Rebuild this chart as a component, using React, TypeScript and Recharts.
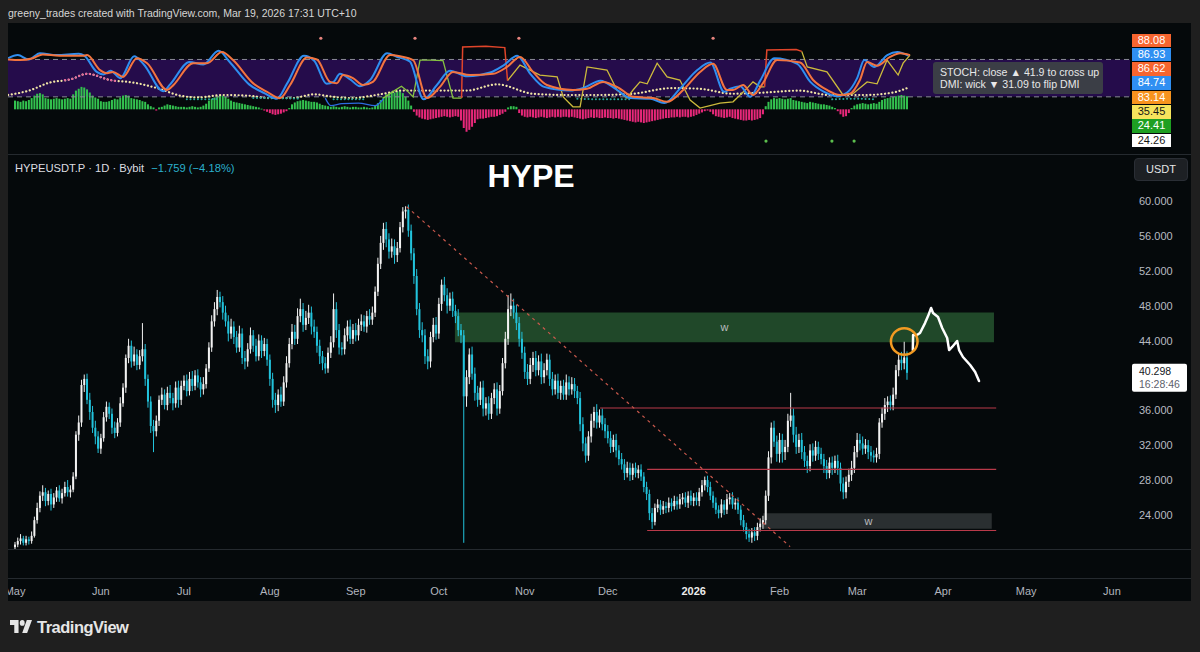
import React from 'react';
import { ComposedChart, Bar, Line, XAxis, YAxis, ReferenceArea, ReferenceLine, ReferenceDot } from 'recharts';

const FONT = '"Liberation Sans", Arial, Helvetica, sans-serif';

// ---------- axes ----------
const dayMin = -2.53;
const dayMax = 402.5;
const monthTickDays = [0, 31, 61, 92, 123, 153, 184, 214, 245, 276, 304, 335, 365, 396];
const monthTickLabels = ['May', 'Jun', 'Jul', 'Aug', 'Sep', 'Oct', 'Nov', 'Dec', '2026', 'Feb', 'Mar', 'Apr', 'May', 'Jun'];
// 40.000 is hidden behind the last-price label in the reference
const priceTicks = [24, 28, 32, 36, 44, 48, 52, 56, 60];
const priceMin = 20.09;
const priceMax = 65.28;
const indMin = -71.7;
const indMax = 138.5;

// ---------- daily candles: [close, upper wick, lower wick] ----------
const firstOpen = 20.3;
const may25 = [[20.6,.3,.4],[21.0,.4,.3],[21.3,.5,.4],[20.8,.3,.3],[21.2,.4,.3],[21.0,.3,.4],[21.6,.5,.3],[23.4,.4,.2],[24.8,.6,.4],[26.2,.5,.5],[26.6,.8,.6],[25.6,.5,.6],[26.4,.4,.5],[25.2,.6,.7],[26.0,.5,.4],[26.8,.4,.5],[25.9,.6,.4],[26.5,.5,.6],[27.2,.6,.4],[26.6,.8,.5],[26.9,.5,.6],[28.4,.5,.3],[33.2,.4,.3],[34.6,.8,.7],[38.9,.6,.5],[39.6,.5,.8],[37.2,.6,.5],[35.8,.8,.9],[34.0,.7,.6],[33.0,.8,.9],[31.6,.6,.5]];
const jun25 = [[32.8,.5,.6],[35.2,.6,.4],[36.4,.6,.5],[35.6,.5,.6],[34.0,.6,.7],[33.4,.7,.6],[34.6,.5,.4],[36.8,.7,.5],[38.6,.5,.4],[42.0,.4,.6],[43.4,.8,.6],[41.6,.6,.7],[42.4,.9,.5],[41.2,.6,.6],[42.2,.7,.5],[43.0,3.0,.6],[39.6,.6,.8],[37.0,.5,.7],[34.2,.6,.8],[33.6,.7,2.4],[34.8,.6,.6],[37.2,.5,.6],[37.8,.8,.6],[36.6,.6,.5],[38.0,.7,.6],[37.4,.9,.6],[36.8,.6,.8],[38.6,.7,.5],[37.2,.8,.9],[38.8,.6,.6]];
const jul25 = [[39.4,.6,.5],[38.2,.7,.6],[39.6,.8,.5],[38.8,.9,.6],[40.0,.6,.5],[39.2,.7,.6],[38.4,.6,.9],[39.0,.8,.6],[40.8,.5,.5],[43.2,.6,.4],[46.2,.7,.5],[47.6,.8,.6],[49.0,.8,.7],[48.4,.6,.6],[47.2,.7,.8],[46.2,.8,.6],[44.8,.7,.9],[45.6,.9,.6],[44.4,.6,.8],[43.2,.7,.6],[44.8,.9,.5],[42.0,.6,.7],[41.6,.8,.9],[43.0,.7,.6],[44.6,.9,.5],[43.4,.6,.7],[42.2,.8,.6],[44.0,.7,.5],[42.8,.6,.8],[43.6,.7,.6],[41.8,.6,.7]];
const aug25 = [[39.6,.6,.8],[37.2,.7,.9],[36.6,.8,.9],[37.8,.6,.7],[37.0,.9,.6],[39.2,.7,.5],[41.4,.8,.6],[43.6,.7,.5],[45.0,.9,.6],[44.2,.8,.7],[46.8,.9,.6],[47.6,1.2,.7],[45.8,.7,.8],[46.6,.8,.6],[47.2,.9,.7],[45.6,.7,.9],[45.0,.8,.7],[43.4,.6,.8],[42.2,.7,.9],[41.4,.6,.8],[40.8,.7,.6],[42.6,.6,.5],[43.8,.7,.6],[47.6,1.8,.6],[45.2,.8,.9],[43.2,.7,.8],[43.0,.6,.7],[44.6,.8,.6],[45.6,.7,.7],[44.2,.8,.6],[45.2,.7,.6]];
const sep25 = [[44.6,.8,.7],[45.8,.7,.6],[46.2,.8,.7],[45.6,.7,.6],[46.8,.6,.7],[46.4,.8,.6],[47.2,.7,.6],[49.6,.6,.5],[52.8,.7,.5],[55.2,.8,.6],[56.8,.7,.8],[55.6,.8,.9],[54.2,.7,.8],[54.8,.9,.7],[53.8,.8,1.0],[54.6,.7,.8],[57.0,.6,.5],[58.8,.5,.6],[59.0,.4,.8],[56.6,.6,.7],[54.0,.7,.8],[51.4,.6,.9],[47.6,.8,.7],[45.2,.7,.9],[44.6,.9,.8],[42.2,.7,.9],[41.6,.8,.9],[44.4,.6,.7],[45.8,.8,.6],[44.8,.9,.7]];
const oct25 = [[48.2,.7,.6],[50.4,.6,.8],[49.2,.9,.7],[48.0,.8,.9],[48.8,.7,.6],[47.4,.8,.7],[46.8,.7,.8],[45.2,.8,.7],[44.6,.7,.9],[37.6,.6,16.8],[39.8,.8,1.2],[42.4,.7,.8],[40.2,.9,.7],[38.0,.7,.9],[37.2,.8,.8],[38.6,.7,.6],[36.2,.8,.9],[36.8,.7,.8],[35.6,.8,.7],[37.4,.6,.6],[38.4,.7,.7],[36.2,.8,.8],[38.2,.7,.6],[41.4,.6,.5],[44.2,.8,.6],[47.6,1.6,.7],[48.0,1.4,.8],[47.2,.8,.7],[46.0,.9,.8],[44.2,.7,.9],[42.6,.8,.7]];
const nov25 = [[40.4,.7,.8],[39.6,.9,.7],[41.2,.8,.6],[42.0,.7,.8],[40.6,.8,.7],[41.6,.7,.6],[39.8,.9,.8],[40.6,.8,.7],[41.8,.7,.6],[39.6,.6,.8],[38.4,.8,.7],[39.4,.7,.6],[38.0,.8,.7],[38.8,.6,.8],[37.8,.7,.6],[39.2,.9,.6],[38.4,.7,.7],[39.0,.8,.6],[38.2,.7,.8],[37.4,.6,.7],[34.4,.7,.8],[32.2,.8,.9],[30.8,.7,.8],[33.0,.6,.6],[34.8,.8,.7],[35.8,.6,.8],[34.6,.9,.7],[35.4,.7,.6],[34.4,.8,.7],[33.6,.7,.8]];
const dec25 = [[32.8,.7,.6],[31.8,.8,.7],[32.6,.6,.6],[31.4,.7,.8],[30.4,.6,.7],[29.8,.7,.6],[28.8,.6,.8],[29.4,.7,.5],[28.6,.6,.7],[29.4,.5,.6],[28.8,.6,.5],[29.2,.5,.6],[28.4,.6,.5],[27.2,.5,.6],[26.4,.6,.7],[24.2,.5,.8],[23.2,.6,.8],[24.8,.5,.4],[25.2,.6,.5],[24.6,.5,.6],[25.0,.6,.5],[24.8,.5,.6],[25.4,.6,.5],[25.0,.5,.6],[25.6,.6,.4],[25.2,.5,.6],[25.8,.6,.5],[26.0,.5,.6],[25.4,.6,.5],[26.2,.5,.6],[25.6,.6,.5]];
const jan26 = [[26.0,.5,.6],[25.6,.6,.5],[26.6,.5,.6],[27.4,.6,.5],[28.0,.4,.6],[27.2,.5,.6],[26.2,.6,.5],[25.4,.5,.6],[24.6,.6,.5],[24.2,.5,.6],[25.2,.6,.5],[24.6,.5,.6],[25.8,.6,.5],[26.0,.5,.6],[25.2,.6,.5],[25.4,.5,.6],[24.6,.6,.5],[23.4,.5,.6],[22.6,.6,.5],[21.8,.5,.6],[21.4,.6,.5],[22.0,.5,.6],[21.6,.6,.6],[22.6,.5,.5],[23.0,.6,.5],[23.4,.5,.6],[26.2,.6,.5],[30.6,.7,.6],[34.0,.6,.7],[32.4,.8,.6],[31.0,.7,.9]];
const feb26 = [[32.6,.8,1.0],[31.2,.7,1.2],[31.8,.8,.9],[34.8,.8,.6],[35.4,2.6,.7],[33.2,.8,.9],[31.8,.9,.8],[32.6,.7,.7],[31.2,.8,.8],[30.2,.7,.7],[29.6,.6,.8],[31.4,.7,.6],[30.8,.8,.7],[31.8,.7,.6],[31.0,.6,.7],[30.4,.7,.6],[29.6,.6,.8],[28.8,.7,.7],[30.0,.6,.6],[29.4,.7,.8],[30.2,.6,.6],[29.4,.7,.8],[27.6,.6,.9],[26.6,.7,.8],[27.8,.6,.7],[28.6,.7,.6],[29.4,.8,.7],[31.2,.7,.6]];
const mar26 = [[32.6,.8,.6],[32.2,.7,.8],[31.6,.8,.7],[32.0,.7,.6],[31.2,.6,.8],[30.8,.7,.7],[30.6,.6,.6],[31.0,.7,.6],[34.6,.5,.6],[35.6,.7,.6],[36.6,.8,.7],[37.0,.6,.8],[36.6,.7,.6],[37.8,.8,.6],[40.6,.6,.5],[41.8,.8,.7],[41.4,.9,.8],[42.06,1.8,.7],[40.298,.7,.8]];

// ---------- histogram (indicator pane), daily ----------
const histMay = [14,13,12,14,13,15,18,22,25,26,24,18,17,16,17,18,17,16,17,18,17,24,30,33,36,35,32,27,22,19,17];
const histJun = [13,12,12,13,15,17,16,19,22,23,22,18,17,16,15,13,12,8,5,3,-2,3,4,6,8,7,6,5,4,4];
const histJul = [4,3,4,5,4,3,4,6,9,14,17,19,21,23,22,20,17,14,12,11,10,9,8,7,6,5,4,3,1,-2,-4];
const histAug = [-6,-8,-9,-8,-7,-5,-3,2,8,11,13,14,15,14,13,12,12,11,9,7,6,5,4,5,4,3,4,5,4,3,4];
const histSep = [4,3,3,4,3,2,3,6,10,15,20,24,26,28,27,29,30,26,20,14,6,-4,-10,-13,-15,-16,-17,-16,-15,-14];
const histOct = [-13,-12,-11,-12,-13,-12,-11,-12,-18,-30,-36,-33,-28,-22,-16,-15,-15,-14,-13,-12,-12,-11,-9,-7,-4,3,5,5,4,-6,-10];
const histNov = [-12,-13,-12,-13,-14,-13,-12,-13,-14,-13,-12,-13,-12,-13,-12,-12,-13,-12,-13,-14,-15,-16,-15,-14,-13,-14,-13,-14,-14,-13];
const histDec = [-14,-14,-15,-14,-15,-16,-17,-18,-19,-20,-21,-20,-21,-22,-21,-20,-19,-18,-17,-16,-15,-14,-14,-13,-13,-12,-13,-12,-12,-13,-12];
const histJan = [-11,-9,-7,-5,-3,-2,-4,-8,-11,-12,-13,-14,-13,-12,-14,-15,-16,-17,-18,-18,-17,-18,-17,-16,-14,-8,5,12,16,18,17];
const histFeb = [18,17,16,17,18,15,14,13,12,11,10,12,11,10,9,8,8,7,6,4,2,-3,-8,-12,-11,-6,2,6];
const histMar = [8,9,10,9,8,9,10,9,12,15,17,18,19,20,21,22,23,22,21];

// ---------- indicator lines: [day, value] ----------
const stochD = [[-2.5,80],[1.8,79],[6.5,82],[10,88],[16,86],[24.5,86],[26,87],[30.7,63],[33.2,58],[35.4,60],[39,52],[44,82],[47.7,74],[54.9,31],[57,38],[64.3,74],[69.3,74],[74.7,92],[78.7,79],[85.9,42],[91,28],[95.7,18],[99.3,39],[105.4,83],[109,80],[113.7,44],[116.2,42],[118.4,55],[122,50],[125.6,39],[129.2,44],[135.4,87],[139,85],[143.7,79],[148.7,18],[153.4,36],[158.1,60],[164.3,55],[172.6,57],[177.6,68],[182.3,84],[187,60],[192,39],[201.4,31],[206.5,33],[212.3,44],[218.4,33],[223.1,20],[230.3,18],[235.4,12],[241.2,31],[247.3,60],[252,73],[257,31],[259.2,31],[262.8,39],[266.4,23],[270,42],[275.1,79],[283.4,75],[288.1,47],[293.1,31],[297.8,23],[301.4,25],[305,47],[307.6,76],[311.2,70],[315.9,84],[319.5,90],[323.1,87]];
const stochK = [[-2.5,82],[1,87],[5,80],[9,90],[15,87],[23,89],[25,86],[29.5,60],[32,56],[34.5,62],[38,50],[43,85],[46.5,72],[53.5,29],[56,40],[63,76],[68,72],[73.5,94],[77.5,76],[84.5,40],[90,26],[94.5,17],[98.3,42],[104.3,86],[108,78],[112.5,41],[115,44],[117.3,57],[121,48],[124.5,37],[128.2,47],[134.3,90],[138,84],[142.5,77],[147.5,16],[152.3,39],[157,62],[163.3,53],[171.5,59],[176.5,71],[181.3,86],[186,57],[191,36],[200.4,30],[205.5,35],[211.3,46],[217.4,31],[222.1,18],[229.3,17],[234.4,10],[240.2,34],[246.3,63],[251,75],[256,28],[258.2,33],[261.8,37],[265.4,20],[269,46],[274.1,82],[282.4,73],[287.1,44],[292.1,28],[296.8,21],[300.4,27],[304,50],[306.6,79],[310.2,68],[314.9,87],[318.5,92],[322.5,86]];
const dmiGreen = [[132.9,18],[137,30],[139.5,37],[141.5,30],[143.7,20],[146.2,79],[150,79],[154.5,78],[158.1,18],[161.2,18]];
const dmiRedA = [[161.2,18],[161.6,100],[170,101],[176.8,99],[177.8,46]];
const dmiYellowA = [[177.8,46],[182.3,71],[189.5,55],[195.7,52],[197.9,20],[201.4,4],[204,4],[206.5,68],[213.7,63],[217.3,31],[220.9,18],[223.1,31],[225.6,44],[228.2,41],[231.8,74],[235.4,52],[240,47],[243.7,15],[247.3,2],[254.5,10],[259.2,12],[264.3,34],[266.4,44],[269,36],[270.6,36]];
const dmiRedB = [[270.6,36],[271.4,95],[282,96],[284,93]];
const dmiYellowB = [[284,93],[286,68],[293.1,60],[298.9,23],[302.5,25],[307.6,44],[311.2,41],[314.8,79],[318.8,55],[320.6,74],[323.1,87]];
const dmiBlue = [[112,18],[114,6],[118,9],[124,10],[130,6],[133,17]];
const dotsMain = [[-2.5,23],[5,30],[12.6,43],[20,48],[26,57],[34.3,47],[42.6,43],[51.3,34],[59.6,22],[66,19],[75,23],[84,22],[92,18],[100,18],[108,24],[115,20],[122,18],[129,22],[136.5,28],[139,30],[150,30],[163,30],[174,40],[187,25],[199,23],[211,23],[223,25],[237,34],[247,33],[259,25],[271,27],[283,30],[294,23],[307,23],[317,27],[322,34]];
const dotsPink = [[18,47],[20,48],[26,57],[34.3,47],[37,45]];
const dotsTeal1 = [[62,16],[68,16],[74,17]];
const dotsTeal2 = [[86,18],[94,18],[103,17]];
const dotsTeal3 = [[115,16],[121,16],[127,16]];
const dotsTeal4 = [[203,17],[213,16],[223,16]];
const dotsTeal5 = [[295,16],[303,17],[311,16]];
const signalTopDays = [110.4, 144.4, 181.9, 252];
const signalTopValue = 114;
const signalBottomDays = [271.1, 294.9, 302.9];
const signalBottomValue = -51;

const indicatorLabels = ['88.08', '86.93', '86.62', '84.74', '83.14', '35.45', '24.41', '24.26'];
const indicatorLabelColors = [
  ['#f7652f', '#ffffff'], ['#2f8ff2', '#ffffff'], ['#f7652f', '#ffffff'], ['#2f8ff2', '#ffffff'],
  ['#f7931e', '#ffffff'], ['#f6e45c', '#161616'], ['#1e9f22', '#ffffff'], ['#ffffff', '#161616'],
];

// ---------- drawings on the price pane ----------
const projection = [[324.1,42.91],[324.2,44.63],[325.6,44.63],[326.7,44.86],[328.5,46.0],[329.6,46.8],[330.7,47.73],[331.4,47.16],[333.2,46.7],[334.7,45.44],[336.5,44.29],[337.2,42.91],[338.3,43.26],[340.1,43.94],[340.8,42.91],[342.2,42.11],[344.8,41.19],[346.6,40.39],[348.0,39.36]];
const greenZone = { d1: 158.8, d2: 353.4, p1: 43.8, p2: 47.21 };
const greyZone = { d1: 270.1, d2: 352.6, p1: 22.4, p2: 24.2 };
const redLevels = [[36.26, 211.2, 354.2], [29.23, 228.2, 354.2], [22.21, 228.2, 354.2]];
const trendStart = [141.4, 59.35];
const trendEnd = [279.8, 20.36];
const circleAt = [321.0, 43.89];
const lastPrice = 40.298;
const lastPriceText = '40.298';
const countdownText = '16:28:46';

// ---------- build tables ----------
const candleMonths = [may25, jun25, jul25, aug25, sep25, oct25, nov25, dec25, jan26, feb26, mar26];
const histAll = [histMay, histJun, histJul, histAug, histSep, histOct, histNov, histDec, histJan, histFeb, histMar].flat();
const candles: any[] = [];
{
  let prev = firstOpen;
  candleMonths.flat().forEach((row: number[], i: number) => {
    const [c, u, w] = row;
    const o = prev;
    candles.push({ d: i, o, c, h: Math.max(o, c) + u, l: Math.min(o, c) - w, hist: histAll[i] ?? 0 });
    prev = c;
  });
}
const pts = (arr: number[][]) => arr.map(([d, v]) => ({ d, v }));

const Candle = (props: any) => {
  const { x, y, width, height, payload } = props;
  if (!payload || height == null || isNaN(y)) return null;
  const { o, c, h, l } = payload;
  const cx = x + width / 2;
  const span = h - l || 1;
  const py = (p: number) => y + ((h - p) / span) * height;
  const up = c >= o;
  const col = up ? '#f2f2f2' : '#22c3dc';
  const top = py(Math.max(o, c));
  const bot = py(Math.min(o, c));
  return (
    <g>
      <line x1={cx} x2={cx} y1={y} y2={y + height} stroke={col} strokeWidth={1} />
      <rect x={cx - 1} y={top} width={2} height={Math.max(bot - top, 1)} fill={col} />
    </g>
  );
};

const HistBar = (props: any) => {
  const { x, y, width, height, payload } = props;
  if (!payload || height == null || isNaN(y)) return null;
  const cx = x + width / 2;
  const y0 = Math.min(y, y + height);
  const hh = Math.max(Math.abs(height), 0.8);
  return <rect x={cx - 1} y={y0} width={2} height={hh} fill={payload.hist >= 0 ? '#33c24f' : '#e8287a'} />;
};

const TimeTick = (props: any) => {
  const { x, y, payload } = props;
  const idx = monthTickDays.indexOf(payload.value);
  const label = monthTickLabels[idx] ?? '';
  const bold = label === '2026';
  return (
    <text x={x} y={y + 42} textAnchor="middle" dominantBaseline="central" fontSize={11}
      fontFamily={FONT} fontWeight={bold ? 700 : 400} fill={bold ? '#ececec' : '#b2b5be'}>{label}</text>
  );
};

const PriceTick = (props: any) => {
  const { x, y, payload } = props;
  return (
    <text x={x + 9} y={y} textAnchor="start" dominantBaseline="central" fontSize={11}
      fontFamily={FONT} fill="#b8bbc2">{Number(payload.value).toFixed(3)}</text>
  );
};

const PriceBox = (props: any) => {
  const { cx, cy } = props;
  if (cx == null || cy == null) return null;
  return (
    <g>
      <rect x={cx + 2} y={cy - 9} width={55} height={28} rx={2} fill="#ffffff" />
      <text x={cx + 9} y={cy - 2} dominantBaseline="central" fontSize={10.5} fontFamily={FONT} fill="#131722">{lastPriceText}</text>
      <text x={cx + 9} y={cy + 11} dominantBaseline="central" fontSize={10.5} fontFamily={FONT} fill="#5d606b">{countdownText}</text>
    </g>
  );
};

export default function App() {
  const lineCommon = { dot: false, activeDot: false, isAnimationActive: false, dataKey: 'v' } as any;
  return (
    <div style={{ position: 'absolute', left: 0, top: 0, width: 1200, height: 652, background: '#1f1f1f', overflow: 'hidden', fontFamily: FONT }}>
      <div style={{ position: 'absolute', left: 8, top: 5, fontSize: 10.5, color: '#d6d6d6', lineHeight: '16px', whiteSpace: 'nowrap' }}>
        greeny_trades created with TradingView.com, Mar 19, 2026 17:31 UTC+10
      </div>
      <div style={{ position: 'absolute', left: 8, top: 23, width: 1183, height: 578, background: '#05090b' }} />
      <div style={{ position: 'absolute', left: 8, top: 154, width: 1183, height: 1, background: '#252a2f' }} />
      <div style={{ position: 'absolute', left: 8, top: 549, width: 1183, height: 1, background: '#252a2f' }} />
      <div style={{ position: 'absolute', left: 8, top: 578, width: 1183, height: 1, background: '#252a2f' }} />

      {/* indicator pane */}
      <div style={{ position: 'absolute', left: 8, top: 23 }}>
        <ComposedChart width={1183} height={131} data={candles} margin={{ top: 0, right: 61, bottom: 0, left: 0 }}>
          <XAxis type="number" dataKey="d" domain={[dayMin, dayMax]} hide allowDataOverflow />
          <YAxis type="number" domain={[indMin, indMax]} hide allowDataOverflow />
          <ReferenceArea y1={20} y2={80} fill="#250c4b" fillOpacity={1} stroke="none" ifOverflow="visible" />
          <ReferenceLine y={80} stroke="#8a8c96" strokeDasharray="5 4" />
          <ReferenceLine y={20} stroke="#8a8c96" strokeDasharray="5 4" />
          <Bar dataKey="hist" barSize={2} shape={(p: any) => <HistBar {...p} />} isAnimationActive={false} />
          <Line {...lineCommon} data={pts(dotsMain)} type="monotone" stroke="#f1e6a6" strokeWidth={2.2} strokeDasharray="0.1 3.6" strokeLinecap="round" />
          <Line {...lineCommon} data={pts(dotsPink)} type="monotone" stroke="#e2609c" strokeWidth={2.2} strokeDasharray="0.1 3.6" strokeLinecap="round" />
          {[dotsTeal1, dotsTeal2, dotsTeal3, dotsTeal4, dotsTeal5].map((s, i) => (
            <Line key={'t' + i} {...lineCommon} data={pts(s)} type="monotone" stroke="#2aa59c" strokeWidth={2} strokeDasharray="0.1 3.6" strokeLinecap="round" />
          ))}
          <Line {...lineCommon} data={pts(dmiBlue)} type="monotone" stroke="#2d6be0" strokeWidth={1.3} />
          <Line {...lineCommon} data={pts(dmiGreen)} type="linear" stroke="#86c241" strokeWidth={1.3} />
          <Line {...lineCommon} data={pts(dmiYellowA)} type="linear" stroke="#cdbb3c" strokeWidth={1.3} />
          <Line {...lineCommon} data={pts(dmiYellowB)} type="linear" stroke="#cdbb3c" strokeWidth={1.3} />
          <Line {...lineCommon} data={pts(dmiRedA)} type="linear" stroke="#e0452a" strokeWidth={1.5} />
          <Line {...lineCommon} data={pts(dmiRedB)} type="linear" stroke="#e0452a" strokeWidth={1.5} />
          <Line {...lineCommon} data={pts(stochK)} type="monotone" stroke="#2f8ef0" strokeWidth={2} />
          <Line {...lineCommon} data={pts(stochD)} type="monotone" stroke="#f3743f" strokeWidth={2} />
          {signalTopDays.map((d, i) => (
            <ReferenceDot key={'st' + i} x={d} y={signalTopValue} r={1.6} fill="#e9857f" stroke="none" ifOverflow="visible" />
          ))}
          {signalBottomDays.map((d, i) => (
            <ReferenceDot key={'sb' + i} x={d} y={signalBottomValue} r={1.6} fill="#5cbf4e" stroke="none" ifOverflow="visible" />
          ))}
        </ComposedChart>
      </div>

      {/* price pane */}
      <div style={{ position: 'absolute', left: 8, top: 155 }}>
        <ComposedChart width={1183} height={446} data={candles} margin={{ top: 0, right: 0, bottom: 0, left: 0 }}>
          <XAxis type="number" dataKey="d" domain={[dayMin, dayMax]} ticks={monthTickDays} interval={0}
            tick={(p: any) => <TimeTick {...p} />} tickLine={false} axisLine={false} height={52} tickSize={0} tickMargin={0} allowDataOverflow />
          <YAxis orientation="right" type="number" domain={[priceMin, priceMax]} ticks={priceTicks} interval={0}
            tick={(p: any) => <PriceTick {...p} />} tickLine={false} axisLine={false} width={61} tickSize={0} tickMargin={0} allowDataOverflow />
          <ReferenceArea x1={greenZone.d1} x2={greenZone.d2} y1={greenZone.p1} y2={greenZone.p2} fill="#204829" fillOpacity={1} stroke="none"
            label={{ value: 'w', fill: '#b9bcbf', fontSize: 11, fontFamily: FONT }} />
          <ReferenceArea x1={greyZone.d1} x2={greyZone.d2} y1={greyZone.p1} y2={greyZone.p2} fill="#2a2f31" fillOpacity={1} stroke="none"
            label={{ value: 'w', fill: '#b9bcbf', fontSize: 11, fontFamily: FONT, dx: -9 } as any} />
          {redLevels.map(([p, a, b], i) => (
            <ReferenceLine key={'r' + i} segment={[{ x: a, y: p }, { x: b, y: p }]} stroke="#b93a4a" strokeWidth={1.2} />
          ))}
          <ReferenceLine segment={[{ x: trendStart[0], y: trendStart[1] }, { x: trendEnd[0], y: trendEnd[1] }]} stroke="#c9584c" strokeWidth={1.2} strokeDasharray="3 4" />
          <Bar dataKey={(e: any) => [e.l, e.h]} barSize={2} shape={(p: any) => <Candle {...p} />} isAnimationActive={false} />
          <Line {...lineCommon} data={pts(projection)} type="linear" stroke="#ffffff" strokeWidth={2.5} strokeLinejoin="round" strokeLinecap="round" />
          <ReferenceDot x={circleAt[0]} y={circleAt[1]} r={13.3} fill="none" stroke="#f29a22" strokeWidth={2.5} ifOverflow="visible" />
          <ReferenceDot x={dayMax} y={lastPrice} r={1} ifOverflow="visible" shape={(p: any) => <PriceBox {...p} />} />
        </ComposedChart>
      </div>

      {/* indicator value labels */}
      {indicatorLabels.map((t, i) => (
        <div key={t + i} style={{ position: 'absolute', left: 1132, top: 33.5 + i * 14.3, width: 39, height: 13.5, background: indicatorLabelColors[i][0],
          color: indicatorLabelColors[i][1], fontSize: 11, lineHeight: '13.5px', textAlign: 'center' }}>{t}</div>
      ))}
      <div style={{ position: 'absolute', left: 933, top: 62, width: 170, height: 32, background: '#3b3e46', borderRadius: 3, color: '#e8e8e8',
        fontSize: 10.6, lineHeight: '12px', padding: '4px 0 0 7px', boxSizing: 'border-box', whiteSpace: 'nowrap' }}>
        <div>STOCH: close ▲ 41.9 to cross up</div>
        <div>DMI: wick ▼ 31.09 to flip DMI</div>
      </div>

      {/* legend */}
      <div style={{ position: 'absolute', left: 15, top: 161, fontSize: 11.2, lineHeight: '14px', whiteSpace: 'nowrap', color: '#dcdde0' }}>
        HYPEUSDT.P · 1D · Bybit <span style={{ color: '#2bb0cc', marginLeft: 4 }}>−1.759 (−4.18%)</span>
      </div>
      <div style={{ position: 'absolute', left: 471, top: 157, width: 120, textAlign: 'center', fontSize: 32, fontWeight: 700, lineHeight: '38px', color: '#ffffff' }}>HYPE</div>
      <div style={{ position: 'absolute', left: 1134, top: 158, width: 54, height: 23, background: '#1d2024', border: '1px solid #2a2e35', borderRadius: 4,
        boxSizing: 'border-box', color: '#e6e6e6', fontSize: 11, lineHeight: '21px', textAlign: 'center' }}>USDT</div>

      {/* TradingView logo */}
      <svg style={{ position: 'absolute', left: 10, top: 620 }} width={22} height={13} viewBox="0 4 36 18" preserveAspectRatio="none">
        <path d="M14 22H7V11H0V4h14v18z" fill="#e6e6e6" />
        <circle cx="20" cy="8" r="4" fill="#e6e6e6" />
        <path d="M28 22h-8l7.5-18H36L28 22z" fill="#e6e6e6" />
      </svg>
      <div style={{ position: 'absolute', left: 37, top: 617, fontSize: 16.5, fontWeight: 700, lineHeight: '20px', letterSpacing: -0.5, color: '#e6e6e6' }}>TradingView</div>
    </div>
  );
}
